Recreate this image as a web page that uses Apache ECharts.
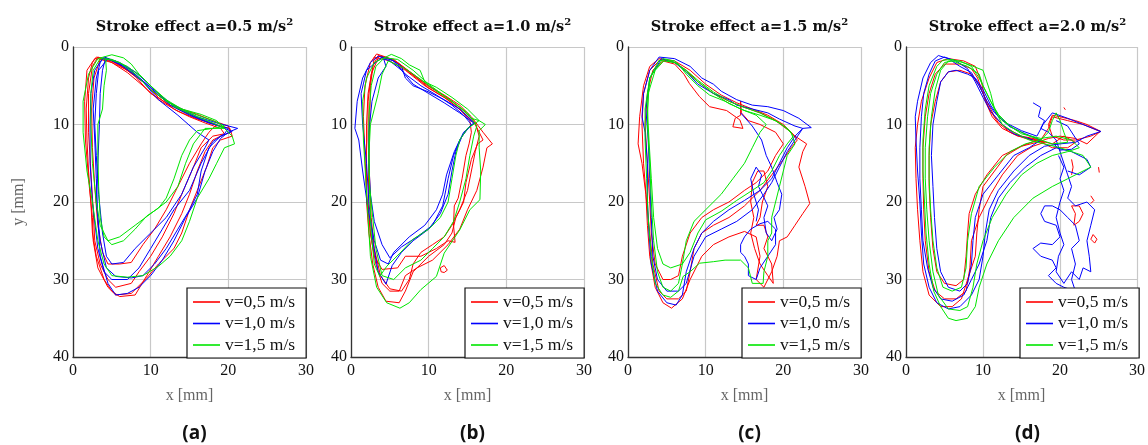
<!DOCTYPE html>
<html><head><meta charset="utf-8">
<script src="https://cdn.jsdelivr.net/npm/echarts@6/dist/echarts.min.js"></script>
<style>html,body{margin:0;padding:0;background:#fff}#c{width:1148px;height:445px}</style>
</head><body><div id="c"></div>
<script>
const titles = ['0.5', '1.0', '1.5', '2.0'];
const panelLabels = ['(a)', '(b)', '(c)', '(d)'];
const legendNames = ['v=0,5 m/s', 'v=1,0 m/s', 'v=1,5 m/s'];
const xTicks = [0, 10, 20, 30];
const yTicks = [0, 10, 20, 30, 40];

// Panel (a) a=0.5
const a_red = [
 [[3,1.3],[4,1.5],[6,2.5],[8,3.5],[10,5.5],[12,7],[14,8],[16,8.7],[18,9.5],[20,10.2],[20.3,11],[19,11.5],[18,12],[17,13.5],[16,16],[15,19],[14,21.5],[12.5,24.5],[11,27],[9.5,29.5],[8,32],[6,32.2],[5,31.5],[4,30],[3,27],[2.5,24],[2.3,20],[2,16],[1.8,12],[1.7,8],[2,4],[2.5,2],[3,1.3]],
 [[3.2,1.3],[5,1.8],[7,3],[9,4.5],[11,6.5],[13,8],[15,9],[17,9.8],[19,10.5],[19.5,11.2],[18,11.5],[16.5,13],[15.5,15.5],[14,19],[13,21.5],[11.5,24.5],[10,27],[8.5,29],[7.5,30.5],[5.5,31],[4.5,30],[3.5,28],[2.8,25],[2.6,21],[2.3,16],[2,11],[2,6],[2.5,2.5],[3.2,1.3]],
 [[2.8,1.5],[4.5,1.6],[6,2.3],[8,3.8],[10,6],[12.5,7.5],[15,8.7],[17.5,9.8],[20.2,10.5],[20.5,11.5],[19,12],[18,13],[17.2,15.5],[16,18.5],[15,21],[14,24],[13,26],[11,28],[9.5,29.8],[7.5,31.8],[5.5,32],[4.5,31],[3.2,28.5],[2.6,25],[2.5,22],[2.1,18],[1.6,12],[1.5,7],[1.8,3],[2.8,1.5]],
 [[3.5,1.6],[5,2],[7,3.3],[9,5],[11,6.8],[13.5,8.3],[16,9.3],[18.5,10],[17.5,11],[16.5,12.5],[15,15],[13.5,18],[12,21],[10.5,23.5],[9,25.5],[7.5,27.8],[6,28],[4.5,28],[3.8,26.5],[3.2,23],[2.8,18],[2.5,13],[2.4,8],[2.7,4],[3.5,1.6]]
];
const a_blue = [
 [[4,1.3],[6,2],[8,3.2],[10,5],[12,7],[14,8],[16,9],[18.5,9.8],[21.2,10.5],[20,11],[19,11.8],[18,13.5],[17,16],[16,19.5],[14.5,22],[13,25],[11.5,27.5],[10,29.5],[8.5,31],[7,31.8],[5.5,32],[4.5,30.5],[3.5,27],[3.2,22],[3,17],[2.8,12],[2.6,8],[3,4],[3.5,2],[4,1.3]],
 [[4.5,1.5],[6.5,2.5],[9,4.5],[11,6.8],[13.5,8.8],[16,11],[17.5,12],[17,13],[15.5,15.5],[14,19],[12,22],[10,24],[8,26],[6.5,27.8],[5,28],[4.3,27],[3.8,24],[3.3,19],[3,14],[2.8,10],[3,6],[3.3,3],[4.5,1.5]],
 [[3.8,1.5],[5.5,1.8],[7.5,3],[10,5.3],[12.5,7.5],[15,8.8],[17.5,9.8],[20,10.5],[19.5,11.2],[18,12.2],[16.5,15],[15,18.5],[13,21],[11.5,23.5],[10,26],[8.5,28.5],[7,30],[5,30],[4,29],[3.2,26],[2.5,20],[2.2,15],[2.2,10],[2.3,6],[2.8,3],[3.8,1.5]],
 [[4.2,1.4],[6,2.2],[8,3.6],[10.5,5.6],[13,7.6],[15.5,8.9],[18,9.9],[20.5,10.9],[19,11.5],[17.5,13],[16.5,16],[16,19],[15,21],[13.5,23.5],[12,26],[10.5,28],[9,29.5],[7.5,29.8],[5.5,29.6],[4.3,28.5],[3.5,25],[3,20],[3.2,15],[3.4,10],[3.5,6],[3.8,3],[4.2,1.4]]
];
const a_green = [
 [[5,1],[6.5,1.4],[7.5,2.2],[8.5,3.5],[10,5],[12,6.8],[14,8],[16.5,8.7],[18.5,9.5],[20.5,11.5],[20.8,12.5],[19.5,13],[18.5,15],[17.5,17],[16,19.5],[15,22.5],[14,25],[12.5,27],[11,28.3],[9,29.5],[7,29.7],[5,29.5],[4,28],[3.2,25],[2.5,20],[1.8,16],[1.3,11],[1.3,7],[2,3.5],[3.2,1.5],[5,1]],
 [[4.2,1.5],[4.3,3],[4,5],[3.8,8],[3.2,10],[3.2,14],[3.3,18],[3.5,22],[4,24.5],[5,25.5],[6.5,25],[8,23.5],[9.5,21.8],[11,20.8],[12,19.5],[13,17],[14,14],[15,12],[16,10.8],[18,10.5],[19.5,10.2],[18,9.5],[16,8.8],[14,8],[12,7],[10,5.5],[8,3.5],[6,2],[4.2,1.5]],
 [[3.5,1.5],[5,1.6],[7,2.5],[9,4],[11,6],[13,7.7],[15.5,8.8],[18,9.8],[19.5,10.5],[17,10.5],[15.5,12.5],[14.5,15],[13.5,18],[12,20],[10,21.5],[8,23],[6,24.5],[4.5,25],[3.5,23],[3,20],[2.5,15],[2.3,10],[2.3,6],[2.6,3],[3.5,1.5]]
];

// Panel (b) a=1.0
const b_red = [
 [[3.3,0.9],[4.5,1.3],[6,2],[8,3.5],[10,5],[12,6.2],[14,7.5],[15.5,9],[17,11],[18.2,12.5],[17.5,13],[17,15.5],[16.2,18.5],[15,21],[14,23.5],[12.5,25.5],[10.5,27.5],[8.5,28.5],[7,29.5],[6.2,31.5],[5,31.5],[4,30.5],[3.2,28],[2.5,24],[2,19],[1.8,14],[1.6,9],[1.8,5],[2.5,2],[3.3,0.9]],
 [[3.5,1.1],[5.5,1.6],[7.5,3.2],[10,5.3],[12.5,6.8],[14.5,8.5],[16,10],[17,12],[16.3,12.5],[15.5,14.5],[14.8,17.5],[14.5,20],[13.5,22],[13,24],[12,25.5],[10,27],[8,29],[7,31.5],[6.2,33],[4.5,32.8],[3.5,31],[2.8,28],[2.3,24],[2,20],[2,15],[2,10],[2.2,6],[2.8,2.5],[3.5,1.1]],
 [[3,1.3],[5,1.8],[7,3],[9.5,5],[12,6.5],[14,8],[15.3,9.5],[15.5,11],[15.2,12.5],[14.8,14],[14.3,17],[13.8,19.5],[13.3,20.5],[13.2,23],[13.4,25.2],[12.5,25],[11,26],[9,27],[7,27],[6,28.5],[4,28.7],[3,27],[2.5,24],[2.2,20],[2.3,15],[2.4,10],[2.5,5],[3,1.3]],
 [[3.6,1.2],[5.5,1.7],[7.5,3.3],[10,5.1],[12.5,6.6],[14.5,8.2],[16,9.8],[16.5,11.5],[16,13.5],[15.5,16],[15,18.5],[14,21],[13,23],[12,24.5],[10.5,25.5],[9,26.5],[8,28],[7.5,30],[6.5,31.5],[5,31.2],[3.8,29.5],[3,26],[2.6,22],[2.4,17],[2.2,12],[2.2,7],[2.6,3.5],[3.6,1.2]],
 [[11.5,28.5],[12,28.2],[12.4,28.8],[12,29.1],[11.6,29],[11.5,28.5]]
];
const b_blue = [
 [[3.5,1.2],[5,1.5],[6.5,2.5],[7,4],[8,5],[10,5.8],[12,6.8],[14,8],[15.9,9.8],[14.5,11],[13.3,13.5],[12.3,16.5],[11.8,19],[11,21],[9.5,23],[7.5,24.5],[5.5,26.5],[4.8,28],[3.8,27.5],[3,25],[2.2,21],[1.5,16],[1,12],[0.5,10.5],[0.8,7],[1.5,4],[2.5,2],[3.5,1.2]],
 [[4,1.3],[5.5,1.8],[7,3.5],[9,5],[11,6.2],[13,7.5],[14.5,8.8],[15.5,10],[14.3,11.5],[13.5,13.5],[13,16],[12.5,19],[11.5,21.5],[10,23.5],[8,25],[6.5,26.5],[5.3,28.2],[4.5,30.6],[3.5,29],[2.8,25],[2.3,20],[2,15],[1.5,10],[1.3,6],[2,3],[4,1.3]],
 [[4.2,1.5],[4.5,2.5],[3.5,4],[2.7,7],[2.3,11],[2.3,15],[2.5,19],[3,22.5],[4,25.5],[5,27.2],[6.5,25.8],[8.5,24.5],[10.5,23],[11.8,20.5],[12.5,17],[13.2,14],[14,12],[15,10.5],[15.8,9.8],[14,8.5],[12,7.2],[10,6],[8,4.8],[6.5,3],[5,1.8],[4.2,1.5]]
];
const b_green = [
 [[5.2,0.95],[6.5,1.5],[7.5,2.3],[8.9,3],[9.5,4.5],[11,5.2],[13,6.5],[15,8],[16.5,9.5],[17.3,10],[16.5,10.8],[16.5,13],[16.7,16],[16.6,19.7],[15.3,21],[14,23.6],[12,26.6],[11,29.6],[9,31.3],[7.5,33],[6.3,33.7],[4.6,33],[3.3,31],[2.5,27],[2.2,22],[1.9,17],[1.6,12],[1.5,7],[2,4],[3,2],[5.2,0.95]],
 [[4.3,1.4],[6,1.6],[8,3],[10,4.8],[12,6.3],[14,7.8],[15.5,9.2],[16.5,9.5],[15,10.5],[14,12],[13.5,14],[13,17],[12.5,20],[11.5,22],[10,23.5],[8,24.8],[6.3,26.6],[4.6,28.3],[3.7,29.6],[3,28],[2.6,24],[2.4,19],[2.3,14],[2.3,9],[2.6,5],[3.2,2.5],[4.3,1.4]],
 [[4.8,1.8],[4,3.5],[3.5,6],[2.5,10],[2.3,14],[2.4,18],[2.8,22],[3.2,26],[4,29.5],[5.5,30],[7,28.5],[9,27.5],[10.5,26],[12,24.5],[13.2,22.5],[14,20],[14.8,17],[15.3,14],[15.8,11.5],[16.2,10.2],[15,8.5],[13,7],[11,5.7],[9,4.2],[7,2.8],[4.8,1.8]]
];

// Panel (c) a=1.5
const c_red = [
 [[4,1.5],[6,1.8],[8,3],[10,4.8],[12,6.2],[14,7.2],[16,8],[18,8.8],[20,10],[21.5,11.5],[23,12.5],[22.5,13.5],[22,15.5],[22.8,18],[23.4,20.2],[22.5,21.5],[21.5,23],[20.5,24.5],[19.5,25],[19.2,27],[18.5,29],[17.5,31],[16.5,30],[17,27],[16.5,24.5],[15,23.8],[13,24.5],[11,25.5],[9.5,27],[8,30],[7,32.5],[5.6,33.7],[4.5,33],[3.5,31],[2.8,27],[2.5,23],[2.3,19],[1.8,15],[1.3,12.5],[1.5,9],[2,5],[2.8,2.5],[4,1.5]],
 [[4.5,1.8],[6,2.2],[7.2,3.5],[7.9,4.7],[9.2,6.4],[10.5,7.7],[12.7,8.2],[14.4,9.4],[14.8,10.5],[13.5,10.3],[13.8,9.2],[14.5,8.8],[14.5,7],[14.6,8.5],[15.5,9.5],[17,10],[19,11],[20,12.5],[19,14],[18,16],[16.5,17.5],[15,18.5],[13,20],[11,21],[9.5,22],[8,24],[7,27],[6.5,29.5],[5.5,30],[4.5,30],[3.5,28],[3,24],[2.8,20],[2.5,15],[2.2,10],[2.5,6],[3.2,3],[4.5,1.8]],
 [[4.2,1.6],[6,2],[7.5,3],[9,4.5],[11,6],[13,7],[15,7.8],[17,8.5],[19,9.5],[21,11],[21.8,12],[21,13],[20,14.5],[18.5,16.5],[17,18.5],[15,20.5],[13,22],[11,23],[9.5,24],[8.5,26],[8,29],[7.5,31.5],[6.5,32.5],[5,32.5],[4,31.5],[3.2,28],[2.8,24],[2.4,20],[2,15],[1.8,10],[2,6],[2.8,3],[4.2,1.6]],
 [[16,17.5],[16.7,16],[17.5,16],[18,18],[17.3,20],[17,22],[16.5,23],[17.5,23],[18,24.5],[17.5,26],[18.5,28],[18.7,30.5],[18,29.5],[17,28],[16.3,26],[15.8,24],[16.2,22],[15.8,20],[16,17.5]]
];
const c_blue = [
 [[4,1.3],[6,1.5],[8,2.5],[9.5,4],[11,4.8],[12,5.7],[14,6.8],[16,7.5],[18,7.7],[20,8.2],[22,9.2],[23.6,10.4],[22.5,10.5],[21.5,11.5],[20.5,13],[19.5,15],[18.5,17],[17,18.5],[15,19.8],[13,21],[11,22.5],[9.5,24],[8.5,26],[7.5,29],[7,32],[6.2,33.3],[5,33],[3.8,31.5],[3,28],[2.7,24],[2.5,20],[2.5,15],[2.2,11],[1.8,9],[2,6],[2.8,3],[4,1.3]],
 [[4.3,1.5],[6,2],[7.5,3.2],[9,4.8],[11,6],[13,6.8],[14,7.5],[16,8],[18,8.5],[19.5,9.3],[21.5,10.2],[22.5,10.5],[21.5,12],[20.5,13.5],[19.5,15.5],[18.5,17.5],[17.5,19],[16,21],[14,22.5],[12,23.5],[10,24.5],[8.5,27],[7.5,30.5],[6.5,31.5],[5,31.5],[3.8,30],[3.2,27],[3,22],[2.8,17],[2.6,12],[2.3,8],[2.8,4],[4.3,1.5]],
 [[14.5,8.5],[16,10.2],[17.2,12],[17.8,14],[18.5,15.5],[19.2,17.5],[19.8,19],[19.5,21],[18.8,22],[19.2,23.5],[18.5,25],[17.8,24],[17.5,22],[18,20.5],[17.3,19],[16.8,18],[17.2,16.5],[16.5,15.5],[15.8,17],[16.2,19],[16.8,21],[16.5,22.5]],
 [[15.8,23.5],[15,24.5],[14.5,25.5],[14.5,26.5],[15,27],[15.5,28],[15.5,29.5],[16.5,30],[17,28.5],[18,27],[19,25.5],[19,23.5],[18,22.5],[17,22.8],[15.8,23.5]]
];
const c_green = [
 [[4.5,1.5],[6,1.8],[7.5,3.2],[9,4.5],[11,6],[13,7.3],[15,8.2],[17,8.8],[19,9.5],[20.5,10.5],[21.3,11.5],[20.5,12.5],[19.5,14],[18.5,16],[17.5,17.5],[16,18.5],[14,19.8],[12,21.2],[10,22.3],[9,24],[8,26.5],[7,28],[5.5,28.5],[4.5,28],[3.8,26],[3.3,22],[3,17],[2.7,12],[2.5,8],[2.8,4],[4.5,1.5]],
 [[4.8,1.6],[6.5,2.2],[7.5,3.5],[9,5],[10.5,6.2],[12.5,7],[14.5,8],[16.5,8.8],[17.8,10],[17,11],[16,13],[15,15],[13.5,17],[12,19],[10,21],[8.5,22.5],[7.5,25],[7,28],[6.5,30.5],[5.5,31.5],[4.5,31],[3.8,29],[3.3,25],[3,20],[2.8,15],[2.5,10],[2.6,6],[3.5,3],[4.8,1.6]],
 [[4,1.7],[6,2],[7.5,3],[9,4.3],[11,5.8],[13,7],[15,7.8],[17,8.5],[19.5,9.8],[21,11],[21.5,12.5],[20.5,14],[20,16],[19.5,18],[19,20],[18.5,22],[18.5,24],[18,25],[18,27],[17.5,29],[17.4,30.5],[16,30.5],[15.5,28.5],[14.5,27.5],[12.5,27.5],[11,27.7],[9.2,27.9],[8,29],[7.1,29.6],[6.5,31.5],[5.5,32.3],[4.5,32],[3.5,30.5],[3,27],[2.6,22],[2.4,17],[2.2,12],[2.2,8],[2.8,4],[4,1.7]]
];

// Panel (d) a=2.0
const d_red = [
 [[17.5,12],[15,11.5],[13,10.5],[11.5,9],[10.5,7],[9.5,5],[8.5,3.5],[7,3],[5.5,3.2],[4.5,4.5],[3.8,7],[3.2,10],[3,14],[3,18],[3.2,22],[3.5,26],[4,29],[5,30.5],[6.5,30.8],[7.5,30],[7.8,27],[8,24],[8.2,21.5],[9,19],[10.5,16.5],[12.5,14],[15,12.8],[17,12.3],[18.5,11.8],[20,11.5],[22,11.8],[23.5,12.5],[25.2,10.9],[23,10],[21,9.5],[19,9],[18.5,10.5],[17.5,12]],
 [[18,12.3],[15.5,11.8],[13.5,11],[12,9.8],[10.8,8],[10,6],[9.3,4],[8.5,2.8],[7,2.2],[5,2.2],[3.8,3.5],[3,6],[2.5,9],[2.2,13],[2.2,17],[2.3,21],[2.5,25],[3,29],[3.8,31.5],[5,32.5],[6.5,32.5],[7.8,31.5],[8.3,28.5],[8.5,25],[9.5,22],[11,19],[12.5,16.5],[14.5,14],[16.5,12.8],[18,12.3]],
 [[17,12],[14.5,11.5],[12.5,10.5],[11.2,9],[10.3,7],[9.8,4.5],[9,2.5],[7.5,1.8],[5.5,1.5],[4,2],[3,4],[2,7],[1.5,10],[1.2,13],[1.3,17],[1.5,21],[1.8,25],[2.2,29],[3,32],[4.5,33.5],[6,33.5],[7.2,32.5],[8,30],[9,27],[9.2,24],[9.5,21],[10,18],[11.5,16],[13,14],[15,12.8],[17,12],[19,12.5],[20.5,11.5],[22,12.3],[21,13],[19,13],[17,12]],
 [[18.5,10],[19,8.8],[20,9],[22,9.5],[23.5,10],[25.3,10.9],[24,11.5],[22,12],[20.5,12],[19,11.5],[18.5,10]],
 [[21.5,20.5],[22,21.5],[21.8,23],[22.5,22.5],[23,21.5],[22.5,20.5],[21.5,20.5]],
 [[24.3,24.2],[24.8,24.8],[24.5,25.3],[24,24.8],[24.3,24.2]],
 [[21.5,14.5],[21.7,15.5],[21.5,16.5]],
 [[25,15.5],[25.1,16.2]],
 [[24,19.2],[24.4,19.8],[24,20.2]],
 [[20.5,7.8],[20.7,8.1]]
];
const d_blue = [
 [[17,11.5],[15,10.8],[13,9.8],[11.5,8.5],[10.5,7],[9.5,5],[8.5,3.3],[7,2.5],[5.5,1.5],[4.2,1.1],[3.2,2],[2.2,4],[1.5,7],[1.2,9],[1.3,12],[1.5,16],[1.8,20],[2,24],[2.3,28],[3,31],[4,33],[5.5,33.8],[7,33.5],[8.5,32],[9.5,30],[10,27],[10.3,24],[10.8,21],[12,18.5],[14,16],[16,14],[18,12.8],[20,12.5],[22,12.3],[23.5,11.5],[25.3,10.9],[23,10],[21,9.2],[19,8.5],[17.8,10],[17,11.5]],
 [[17.5,12],[15.5,11.2],[13.5,10.3],[12,9],[11,7.5],[10,5.5],[9,4],[8,3.5],[6.5,3],[5.5,3.2],[4.5,4.5],[4,7],[3.5,10],[3.3,14],[3.5,18],[3.7,22],[4,26],[4.5,29],[5.5,31],[7,31.5],[8,30.5],[8.5,28],[8.7,25],[9,22],[10,19],[12,16.5],[14,14],[16,13],[17.5,12]],
 [[16.5,12],[14,11.2],[12.5,10],[11,8.3],[10,6.5],[9,4.5],[8,2.8],[6.5,1.8],[5,1.3],[3.8,1.8],[3,3.5],[2.3,6],[2,9],[1.8,13],[1.8,17],[2,21],[2.2,25],[2.8,28.5],[3.5,31],[4.5,32.5],[6,32.8],[7.5,32],[8.5,30],[9.5,28],[10.5,25],[11,22],[12,19.5],[13.5,17.5],[15.5,15.5],[17.5,14],[19.5,13],[21.5,13.5],[23.5,14.5],[24,15.5],[22.5,16.5],[21,16]],
 [[16.5,7.2],[17.5,7.8],[17.2,9],[18,9.5],[17.5,10.5],[18.5,11],[19.5,12],[20,13.5],[20.5,15],[21,16.5],[21.5,18],[21,19.5],[22,20.5],[23.5,20],[24.5,21],[24,23],[23.5,25],[23.8,27],[24,29],[23,28.5],[22.5,30],[21.5,29],[20.5,30.5],[19.5,29],[19.8,27],[20.5,25.5],[20,24],[19.5,22],[20,20],[20.5,18.5],[20,17],[20.5,15.5],[19.8,14]],
 [[18,20.5],[17.5,21.5],[18,22.5],[19.5,23],[20,24.5],[19,25.5],[17.5,25.3],[16.5,26],[17.5,27],[19,27.5],[19.5,28.5],[18.5,29.5],[19.5,30.5],[20.5,31],[22,31.5],[21.5,30],[22,28],[21.5,26],[22.5,25],[22,23],[21,22],[20,21],[19,20.5],[18,20.5]],
 [[19.5,9.5],[21,10.2],[22.5,12.5],[21.5,13.2],[20,13.3],[19.2,12.5]]
];
const d_green = [
 [[18,12.5],[16,12],[14,11],[12.5,10],[11.5,8],[11,6],[10.5,4.5],[10,3],[8,2.2],[6,1.6],[4.8,1.7],[4,2.5],[3,5],[2.5,8],[2.2,12],[2.2,16],[2.4,20],[2.6,24],[3,28],[3.6,31.5],[4.5,33.5],[5.5,35],[6.5,35.3],[8,35],[9,33.5],[9.5,31],[10.5,28],[12,25],[14,22],[16.5,19.5],[19,18],[21,17],[23,16],[24,15.5],[23,14],[21.5,13.5],[20,13],[18,12.5]],
 [[17.5,11.8],[15,11.2],[13.5,10.2],[12,8.7],[11,7],[10,5],[9.5,3.5],[8,2.5],[6,1.8],[5,2],[4,3.5],[3.2,6],[2.8,9],[2.5,13],[2.5,17],[2.7,21],[3,25],[3.5,29],[4.2,32],[5.5,33.8],[7,34],[8,33.5],[8.7,31],[9.2,28],[10,25],[11.2,22],[13,19],[15,16.5],[17,15],[19,14],[21,13.5],[22.5,13],[21.5,12],[19.5,11.5],[17.5,11.8]],
 [[16,11.5],[14,10.5],[12.5,9.5],[11.5,8],[10.5,6],[9.5,4],[8.5,2.5],[7,1.8],[5.5,1.8],[4.5,3],[3.8,5.5],[3.3,9],[3,13],[3,17],[3.2,21],[3.5,25],[4,28.5],[4.8,31],[6,31.5],[7.2,31],[7.8,28.5],[8,25],[8.5,21.5],[9.5,18],[11.5,15.5],[13.5,13.5],[15.5,12.5],[17.5,12],[18.5,11],[19,9.5],[19.5,8.5],[20,9.5],[20.5,11],[21,12.3],[19,12.5],[16,11.5]]
];

const panels = [
  [a_red, a_blue, a_green],
  [b_red, b_blue, b_green],
  [c_red, c_blue, c_green],
  [d_red, d_blue, d_green]
];
const colors = ['#ff0000', '#0000ff', '#00e600'];
const gridLefts = [73, 351, 628, 906];
const gridW = 233, gridTop = 47, gridH = 310;
const serif = "'Liberation Serif', 'DejaVu Serif', serif";
const titleSerif = "'DejaVu Serif', serif";

const grid = [], xAxis = [], yAxis = [], series = [], title = [], legend = [];
gridLefts.forEach((L, i) => {
  grid.push({left: L, top: gridTop, width: gridW, height: gridH});
  xAxis.push({
    type: 'value', gridIndex: i, min: xTicks[0], max: xTicks[xTicks.length - 1], interval: 10,
    name: 'x [mm]', nameLocation: 'middle', nameGap: 31,
    nameTextStyle: {fontFamily: serif, fontSize: 16, color: '#666'},
    axisLine: {show: true, onZero: false, lineStyle: {color: '#333', width: 1.3}},
    axisTick: {show: false},
    axisLabel: {fontFamily: serif, fontSize: 16, color: '#111', margin: 6},
    splitLine: {show: true, lineStyle: {color: '#c8c8c8', width: 1.2}}
  });
  yAxis.push({
    type: 'value', gridIndex: i, inverse: true, min: yTicks[0], max: yTicks[yTicks.length - 1], interval: 10,
    name: i === 0 ? 'y [mm]' : '', nameLocation: 'middle', nameGap: 46,
    nameTextStyle: {fontFamily: serif, fontSize: 16, color: '#666'},
    axisLine: {show: true, onZero: false, lineStyle: {color: '#333', width: 1.3}},
    axisTick: {show: false},
    axisLabel: {fontFamily: serif, fontSize: 16, color: '#111', margin: 4},
    splitLine: {show: true, lineStyle: {color: '#c8c8c8', width: 1.2}}
  });
  title.push({
    text: '{t|Stroke effect a=' + titles[i] + ' m/s}{s|2}',
    left: L + gridW / 2, top: 12, textAlign: 'center',
    textStyle: {rich: {
      t: {fontFamily: titleSerif, fontWeight: 'bold', fontSize: 14.5, color: '#111', lineHeight: 20},
      s: {fontFamily: titleSerif, fontWeight: 'bold', fontSize: 10, color: '#111', verticalAlign: 'top', lineHeight: 12}
    }}
  });
  title.push({
    text: panelLabels[i], left: L + gridW / 2, top: 419, textAlign: 'center',
    textStyle: {fontFamily: "'Open Sans', 'Noto Sans', sans-serif", fontWeight: 'bold', fontSize: 19, color: '#111'}
  });
  legend.push({
    data: legendNames, orient: 'vertical', left: L + gridW - 119, top: 288,
    backgroundColor: '#fff', borderColor: '#111', borderWidth: 1.2, borderRadius: 0,
    padding: [5, 11, 4, 6], itemGap: 3.5, itemWidth: 27, itemHeight: 1.6, icon: 'rect',
    textStyle: {fontFamily: serif, fontSize: 17.5, color: '#111'},
    selectedMode: false
  });
  panels[i].forEach((loops, c) => {
    loops.forEach(loop => {
      series.push({
        type: 'line', name: legendNames[c], xAxisIndex: i, yAxisIndex: i,
        data: loop, showSymbol: false, symbol: 'none', silent: true,
        lineStyle: {color: colors[c], width: 1}, itemStyle: {color: colors[c]},
        z: 2 + c
      });
    });
  });
});

const chart = echarts.init(document.getElementById('c'), null, {renderer: 'canvas'});
chart.setOption({animation: false, backgroundColor: '#fff', grid, xAxis, yAxis, title, legend, series});
</script></body></html>
